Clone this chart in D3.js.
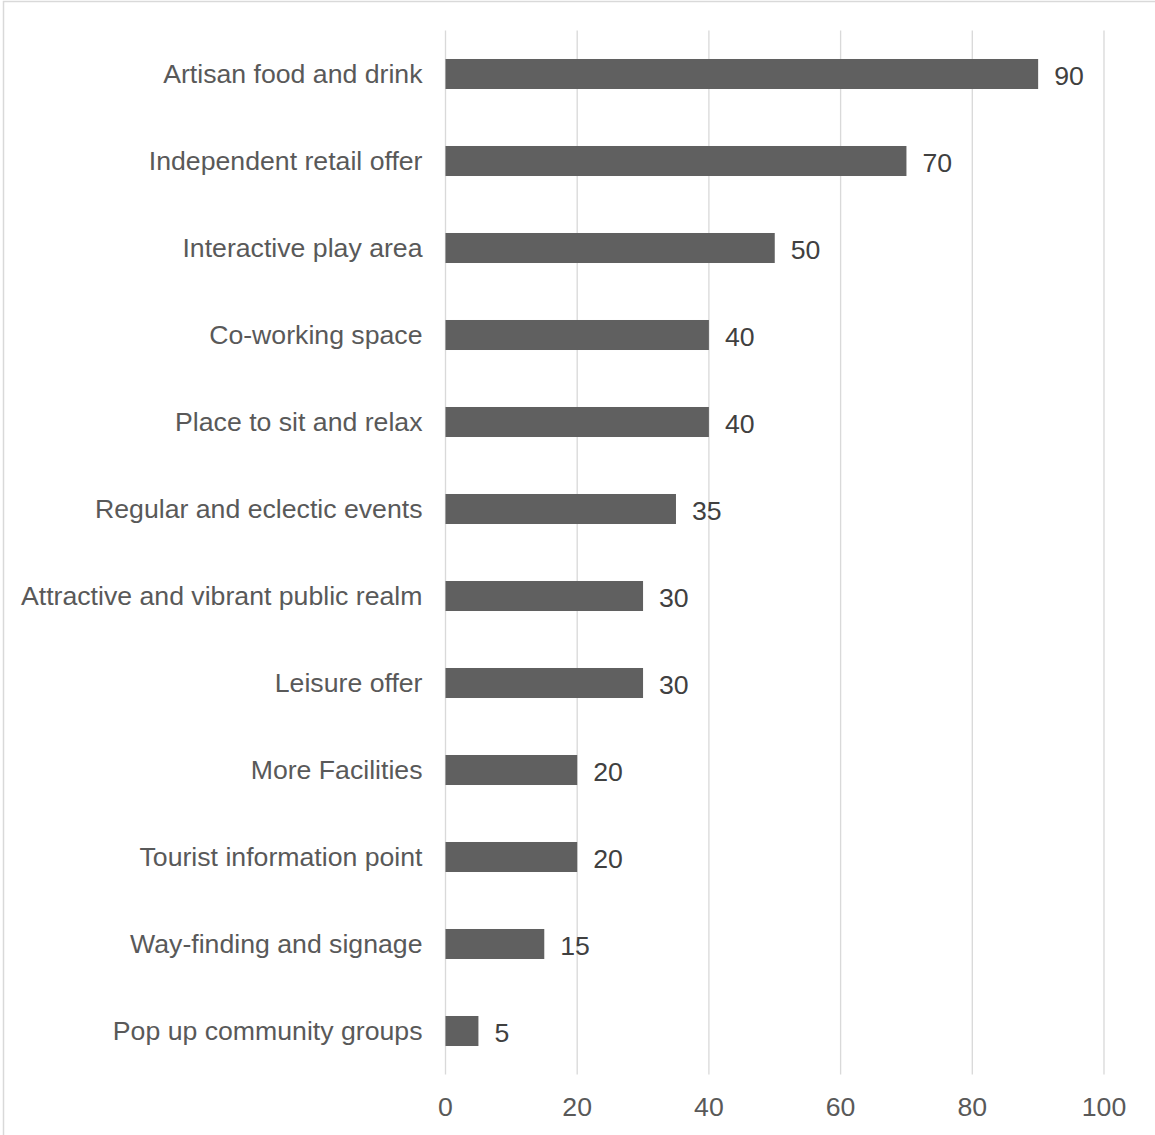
<!DOCTYPE html>
<html>
<head>
<meta charset="utf-8">
<script src="https://cdn.jsdelivr.net/npm/d3@7"></script>
<style>
  body { margin: 0; background: #fff; }
  svg { display: block; font-family: "Liberation Sans", Arial, sans-serif; }
</style>
</head>
<body>
<svg id="chart" width="1155" height="1135"></svg>
<script>
// Data ---------------------------------------------------------------------
const categories = [
  "Artisan food and drink",
  "Independent retail offer",
  "Interactive play area",
  "Co-working space",
  "Place to sit and relax",
  "Regular and eclectic events",
  "Attractive and vibrant public realm",
  "Leisure offer",
  "More Facilities",
  "Tourist information point",
  "Way-finding and signage",
  "Pop up community groups"
];
const values = [90, 70, 50, 40, 40, 35, 30, 30, 20, 20, 15, 5];
const xTicks = [0, 20, 40, 60, 80, 100];

// Layout -------------------------------------------------------------------
const svg = d3.select("#chart");
const plotLeft = 445.5, plotRight = 1104, plotTop = 30.5, plotBottom = 1074.5;
const textColor = "#595959";
const gridColor = "#d9d9d9";

// chart border (only top and left fall inside the picture)
svg.append("rect")
  .attr("x", 3.5).attr("y", 1.5)
  .attr("width", 1200).attr("height", 1200)
  .attr("fill", "none")
  .attr("stroke", gridColor)
  .attr("stroke-width", 1.5);

const x = d3.scaleLinear().domain([0, 100]).range([plotLeft, plotRight]);
const y = d3.scaleBand().domain(categories).range([plotTop, plotBottom]).paddingInner(0.655).paddingOuter(0.3275);

// gridlines
svg.append("g")
  .selectAll("line")
  .data(xTicks)
  .enter()
  .append("line")
  .attr("x1", d => x(d)).attr("x2", d => x(d))
  .attr("y1", plotTop).attr("y2", plotBottom)
  .attr("stroke", gridColor)
  .attr("stroke-width", 1.33);

// x axis tick labels
svg.append("g")
  .selectAll("text")
  .data(xTicks)
  .enter()
  .append("text")
  .attr("x", d => x(d))
  .attr("y", 1116)
  .attr("text-anchor", "middle")
  .attr("font-size", "26.67px")
  .attr("fill", textColor)
  .text(d => d);

// bars
svg.append("g")
  .selectAll("rect")
  .data(categories)
  .enter()
  .append("rect")
  .attr("x", x(0))
  .attr("y", d => y(d))
  .attr("width", (d, i) => x(values[i]) - x(0))
  .attr("height", y.bandwidth())
  .attr("fill", "#606060");

// category labels
svg.append("g")
  .selectAll("text")
  .data(categories)
  .enter()
  .append("text")
  .attr("x", plotLeft - 23)
  .attr("y", d => y(d) + y.bandwidth() / 2)
  .attr("dy", "0.35em")
  .attr("text-anchor", "end")
  .attr("font-size", "26.67px")
  .attr("fill", textColor)
  .text(d => d);

// value labels
svg.append("g")
  .selectAll("text")
  .data(categories)
  .enter()
  .append("text")
  .attr("x", (d, i) => x(values[i]) + 16)
  .attr("y", d => y(d) + y.bandwidth() / 2)
  .attr("dy", "0.42em")
  .attr("font-size", "26.67px")
  .attr("fill", "#404040")
  .text((d, i) => values[i]);
</script>
</body>
</html>
